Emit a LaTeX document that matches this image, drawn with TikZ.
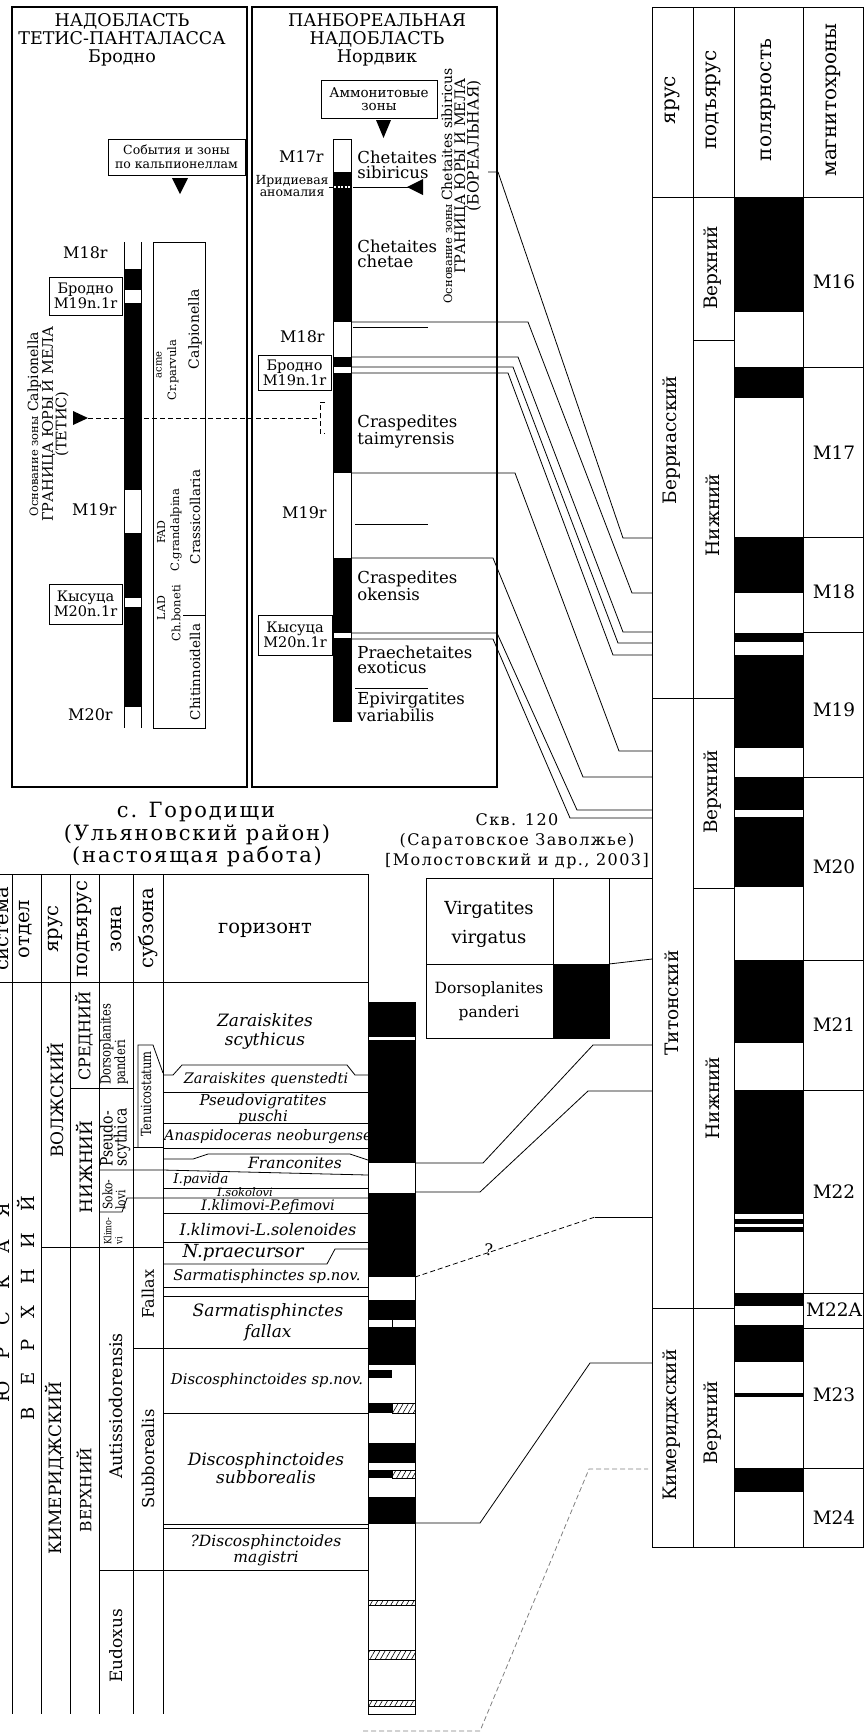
\documentclass[tikz,border=0pt]{standalone}
\usepackage{fontspec}
\setmainfont{DejaVu Serif}
\newfontfamily\spcfont[LetterSpace=9]{DejaVu Serif}
\newfontfamily\cndfont[FakeStretch=0.82]{DejaVu Serif}
\usetikzlibrary{patterns.meta}
\newcommand\fsz[2]{\fontsize{#1pt}{#2pt}\selectfont}
\newcommand\spread[1]{\def\sep{\hskip22pt}#1}

\begin{document}
\begin{tikzpicture}[x=1pt,y=-1pt,line width=0.8pt,
  lbl/.style={inner sep=0pt,align=center},
  rot/.style={inner sep=0pt,align=center,rotate=90},
  bx/.style={draw,line width=0.9pt,fill=white,inner sep=0pt,align=center},
  pan/.style={draw,line width=1.6pt},
  sp/.style={inner sep=0pt,align=left,anchor=north west,font=\fsz{16.5}{15}},
  hz/.style={inner sep=0pt,align=center,font=\itshape\fsz{#1}{#1}},
  hatch/.style={draw,line width=0.6pt,pattern={Lines[angle=60,distance=4.5pt,line width=0.6pt]}},
  dsh/.style={line width=0.8pt,dash pattern=on 5pt off 3pt}
]
\useasboundingbox (0,0) rectangle (864,1733);

\draw[pan] (12,7) rectangle (247,787);
\draw[pan] (252,7) rectangle (497,787);
\node[lbl,anchor=north,font=\fsz{17.5}{18}] (ttlT) at (122,13) {НАДОБЛАСТЬ\\ТЕТИС-ПАНТАЛАССА\\Бродно};
\node[lbl,anchor=north,font=\fsz{17.5}{18}] (ttlN) at (377,13) {ПАНБОРЕАЛЬНАЯ\\НАДОБЛАСТЬ\\Нордвик};

\node[bx,minimum width=116pt,minimum height=38pt,font=\fsz{13.5}{13}] (amm) at (379,99) {Аммонитовые\\зоны};
\node[bx,minimum width=137pt,minimum height=36pt,font=\fsz{12.5}{14}] (calp) at (176.5,157) {События и зоны\\по кальпионеллам};
\fill (376,120)--(391,120)--(383.5,138)--cycle;
\fill (172,178)--(188,178)--(180,194)--cycle;

\draw (124,242)--(124,728) (141,242)--(141,728);
\foreach \a/\b in {269/290,303/490,533/598,607/707} \fill (124,\a) rectangle (141,\b);
\node[lbl,anchor=east,font=\fsz{16}{16}] (m18T) at (108,253) {M18r};
\node[lbl,anchor=east,font=\fsz{16}{16}] (m19T) at (117,510) {M19r};
\node[lbl,anchor=east,font=\fsz{16}{16}] (m20T) at (113,715) {M20r};
\node[bx,minimum width=73pt,minimum height=38pt,font=\fsz{14.5}{15}] (brT) at (85.5,296) {Бродно\\M19n.1r};
\node[bx,minimum width=73pt,minimum height=40pt,font=\fsz{14.5}{15}] (kyT) at (85.5,604) {Кысуца\\M20n.1r};

\draw (153,242) rectangle (205,728);
\draw (183,615)--(205,615);
\node[rot,font=\fsz{14}{14}] (cpA) at (195,329) {Calpionella};
\node[rot,font=\fsz{10}{10}] (cpB) at (159,365) {acme};
\node[rot,font=\fsz{11.5}{12}] (cpC) at (173,370) {Cr.parvula};
\node[rot,font=\fsz{11}{11}] (cpD) at (161,532) {FAD};
\node[rot,font=\fsz{11.5}{12}] (cpE) at (176,530) {C.grandalpina};
\node[rot,font=\fsz{13.5}{14}] (cpF) at (195,517) {Crassicollaria};
\node[rot,font=\fsz{11}{11}] (cpG) at (161,608) {LAD};
\node[rot,font=\fsz{11.5}{12}] (cpH) at (176,613) {Ch.boneti};
\node[rot,font=\fsz{13.5}{14}] (cpI) at (195,672) {Chitinnoidella};

\node[rot,font=\fsz{14.5}{13.5}] (bndT) at (48,424) {{\fsz{11.5}{13.5}Основание зоны} {\fsz{14}{13.5}Calpionella}\\ГРАНИЦА ЮРЫ И МЕЛА\\(ТЕТИС)};
\fill (73,411)--(88,418)--(73,425)--cycle;
\draw[dsh] (88,418)--(320,418);
\draw[dsh] (325,402)--(320,402)--(320,433)--(325,433);

\foreach \a/\b in {172/322,357/367,373/473,558/633,638/722} \fill (333,\a) rectangle (351,\b);
\draw (333,722)--(333,139)--(351,139)--(351,722);
\draw[white,line width=1.2pt,dash pattern=on 2pt off 1.5pt] (334,187)--(350,187);
\draw (329,187)--(333,187);
\draw (353,187)--(423,187);
\fill (407,187)--(423,179)--(423,195)--cycle;
\node[lbl,anchor=east,font=\fsz{12.5}{12}] (irid) at (329,186) {Иридиевая\\аномалия};
\node[lbl,anchor=east,font=\fsz{16}{16}] (m17N) at (324,157) {M17r};
\node[lbl,anchor=east,font=\fsz{16}{16}] (m18N) at (325,337) {M18r};
\node[lbl,anchor=east,font=\fsz{16}{16}] (m19N) at (327,513) {M19r};
\node[bx,minimum width=73pt,minimum height=35pt,font=\fsz{14.5}{15}] (brN) at (294.5,372.5) {Бродно\\M19n.1r};
\node[bx,minimum width=74pt,minimum height=40pt,font=\fsz{14.5}{15}] (kyN) at (295,635) {Кысуца\\M20n.1r};
\node[sp] (zA) at (357,151) {Chetaites\\sibiricus};
\node[sp] (zB) at (357,240) {Chetaites\\chetae};
\node[sp] (zC) at (357,415) {Craspedites\\taimyrensis};
\node[sp] (zD) at (357,571) {Craspedites\\okensis};
\node[sp] (zE) at (357,646) {Praechetaites\\exoticus};
\node[sp] (zF) at (357,692) {Epivirgatites\\variabilis};
\draw (353,327)--(428,327) (355,524)--(428,524) (355,688)--(428,688);
\node[rot,anchor=east] (bndN1) at (447,68) {{\fsz{11.5}{12}Основание зоны} {\fsz{14}{14}Chetaites sibiricus}};
\node[rot,anchor=east,font=\fsz{14.5}{14}] (bndN2) at (461,78) {ГРАНИЦА ЮРЫ И МЕЛА};
\node[rot,anchor=east,font=\fsz{15.5}{14}] (bndN3) at (474,80) {(БОРЕАЛЬНАЯ)};

\draw (652,7) rectangle (863,1547);
\foreach \x in {693,734,803} \draw (\x,7)--(\x,1547);
\draw (652,197)--(863,197);
\foreach \y in {698,1308} \draw (652,\y)--(734,\y);
\foreach \y in {340,888} \draw (693,\y)--(734,\y);
\foreach \y in {367,537,632,777,960,1090,1293,1328,1468} \draw (803,\y)--(863,\y);
\foreach \a/\b in {197/312,367/398,537/593,633/642,655/748,777/810,817/887,960/1043,1090/1214,1219/1224,1227/1232,1293/1306,1325/1362,1393/1397,1468/1492}
  \fill (734,\a) rectangle (803,\b);
\node[rot,font=\fsz{20}{20}] (hY) at (672,100) {ярус};
\node[rot,font=\fsz{20}{20}] (hP) at (713,100) {подъярус};
\node[rot,font=\fsz{20}{20}] (hL) at (768,100) {полярность};
\node[rot,font=\fsz{20}{20}] (hM) at (833,100) {магнитохроны};
\node[rot,font=\fsz{18.5}{18}] (sBer) at (672,440) {Берриасский};
\node[rot,font=\fsz{18.5}{18}] (sTit) at (672,1003) {Титонский};
\node[rot,font=\fsz{18.5}{18}] (sKim) at (672,1425) {Кимериджский};
\node[rot,font=\fsz{18.5}{18}] (uBer) at (713,268) {Верхний};
\node[rot,font=\fsz{18.5}{18}] (lBer) at (713,515) {Нижний};
\node[rot,font=\fsz{18.5}{18}] (uTit) at (713,792) {Верхний};
\node[rot,font=\fsz{18.5}{18}] (lTit) at (713,1098) {Нижний};
\node[rot,font=\fsz{18.5}{18}] (uKim) at (713,1423) {Верхний};
\foreach \n/\y in {M16/282,M17/453,M18/592,M19/710,M20/867,M21/1025,M22/1192,M22A/1310,M23/1395,M24/1518}
  \node[lbl,font=\fsz{18.5}{18}] (c\n) at (834,\y) {\n};

\draw (498,172)--(623,538)--(652,538) (488,172)--(498,172);
\draw (351,322)--(528,322)--(632,593)--(652,593);
\draw (351,357)--(518,357)--(623,632)--(652,632);
\draw (351,367)--(513,367)--(618,643)--(652,643);
\draw (351,373)--(508,373)--(613,655)--(652,655);
\draw (351,473)--(515,473)--(619,751)--(652,751);
\draw (351,558)--(493,558)--(583,777)--(652,777);
\draw (351,633)--(497,633)--(577,810)--(652,810);
\draw (351,639)--(493,639)--(570,818)--(652,818);

\node[lbl,anchor=base,font=\spcfont\fsz{21}{21}] (gA) at (196,817) {с. Городищи};
\node[lbl,anchor=base,font=\spcfont\fsz{21}{21}] (gB) at (197,840) {(Ульяновский район)};
\node[lbl,anchor=base,font=\spcfont\fsz{21}{21}] (gC) at (197,862) {(настоящая работа)};
\node[lbl,anchor=base,font=\spcfont\fsz{16}{16}] (sA) at (517,825) {Скв. 120};
\node[lbl,anchor=base,font=\spcfont\fsz{16}{16}] (sB) at (517,845) {(Саратовское Заволжье)};
\node[lbl,anchor=base,font=\spcfont\fsz{16}{16}] (sC) at (517,865) {[Молостовский и др., 2003]};

\draw (426,878) rectangle (609,1038);
\fill (553,964) rectangle (609,1038);
\draw (553,878)--(553,1038) (426,964)--(609,964);
\node[lbl,font=\fsz{18}{29}] (vV) at (489,924) {Virgatites\\virgatus};
\node[lbl,font=\fsz{15.5}{24}] (vD) at (489,1001) {Dorsoplanites\\panderi};
\draw (609,878)--(652,878);
\draw (609,964)--(652,959);

\draw (0,874)--(368,874) (0,982)--(368,982);
\foreach \x in {12,41,70,99,133,163,368} \draw (\x,874)--(\x,1714);
\node[rot,font=\fsz{19.5}{20}] (hSys) at (3,929) {система};
\node[rot,font=\fsz{19.5}{20}] (hOtd) at (26,929) {отдел};
\node[rot,font=\fsz{19.5}{20}] (hYar) at (55,929) {ярус};
\node[rot,font=\fsz{19.5}{20}] (hPod) at (84,929) {подъярус};
\node[rot,font=\fsz{19.5}{20}] (hZon) at (116,929) {зона};
\node[rot,font=\fsz{19.5}{20}] (hSub) at (148,928) {субзона};
\node[lbl,font=\fsz{19.5}{20}] (hGor) at (265,930) {горизонт};

\node[rot,font=\fsz{18}{18}] (jur) at (3,1303) {Ю\hskip22pt Р\hskip22pt С\hskip22pt К\hskip22pt А\hskip22pt Я};
\node[rot,font=\fsz{18}{18}] (upp) at (26,1308) {В\hskip21pt Е\hskip21pt Р\hskip21pt Х\hskip21pt Н\hskip21pt И\hskip21pt Й};
\node[rot,font=\fsz{17}{17}] (vol) at (55,1100) {ВОЛЖСКИЙ};
\node[rot,font=\fsz{17}{17}] (kim) at (55,1468) {КИМЕРИДЖСКИЙ};
\node[rot,font=\fsz{16}{16}] (mid) at (84,1036) {СРЕДНИЙ};
\node[rot,font=\fsz{17}{17}] (low) at (84,1167) {НИЖНИЙ};
\node[rot,font=\fsz{15.5}{16}] (upk) at (84,1490) {ВЕРХНИЙ};
\node[rot,align=left,anchor=west,font=\cndfont\fsz{14}{13.5}] (zDor) at (114,1085) {Dorsoplanites\\panderi};
\node[rot,align=left,anchor=west,font=\cndfont\fsz{17}{14}] (zPse) at (115,1167) {Pseudo-\\scythica};
\node[rot,align=left,anchor=west,font=\cndfont\fsz{13}{13}] (zSok) at (114,1210) {Soko-\\lovi};
\node[rot,align=left,anchor=west,font=\cndfont\fsz{10}{11}] (zKli) at (113,1245) {Klimo-\\vi};
\node[rot,font=\fsz{17.5}{18}] (zAut) at (116,1406) {Autissiodorensis};
\node[rot,font=\fsz{17}{17}] (zEud) at (116,1646) {Eudoxus};
\node[rot,font=\cndfont\fsz{14}{14}] (szTen) at (146,1094) {Tenuicostatum};
\node[rot,font=\fsz{16}{16}] (szFal) at (148,1294) {Fallax};
\node[rot,font=\fsz{16.4}{16}] (szSub) at (148,1459) {Subborealis};

\draw (70,1088)--(133,1088);
\draw (138,1147)--(138,1045)--(153,1045)--(163,1073);
\draw (133,1147)--(163,1147);
\draw (99,1170)--(163,1170)--(368,1175);
\draw (99,1212)--(122,1212)--(127,1198)--(368,1198);
\draw (163,1188)--(368,1188);
\draw (41,1247)--(163,1247)--(163,1242)--(368,1242);
\draw (163,1075)--(173,1075)--(182,1065)--(347,1065)--(355,1075)--(368,1075);
\draw (163,1092)--(368,1092) (163,1123)--(368,1123) (163,1148)--(368,1148);
\draw (163,1159)--(193,1159)--(208,1154)--(350,1154)--(368,1160);
\draw (163,1213)--(368,1213);
\draw (163,1264)--(327,1264)--(335,1249)--(368,1249);
\draw (163,1287)--(368,1287) (163,1296)--(368,1296);
\draw (133,1348)--(368,1348);
\draw (163,1413)--(368,1413);
\draw (163,1524)--(368,1524) (163,1528)--(368,1528);
\draw (99,1570)--(368,1570);

\node[hz=17,font=\itshape\fsz{17}{19}] (hA) at (265,1031) {Zaraiskites\\scythicus};
\node[hz=14.5] (hB) at (266,1079) {Zaraiskites quenstedti};
\node[hz=15,font=\itshape\fsz{15}{12}] (hC) at (263,1109) {Pseudovigratites\\puschi};
\node[hz=14.5] (hD) at (268,1137) {Anaspidoceras neoburgense};
\node[hz=15.5] (hE) at (295,1163) {Franconites};
\node[hz=13.5,anchor=west] (hF) at (173,1180) {I.pavida};
\node[hz=11.5] (hG) at (245,1192) {I.sokolovi};
\node[hz=14.5] (hH) at (268,1206) {I.klimovi-P.efimovi};
\node[hz=16] (hI) at (268,1230) {I.klimovi-L.solenoides};
\node[hz=18] (hJ) at (243,1253) {N.praecursor};
\node[hz=14.8] (hK) at (267,1276) {Sarmatisphinctes sp.nov.};
\node[hz=17,font=\itshape\fsz{17}{21}] (hL) at (268,1322) {Sarmatisphinctes\\fallax};
\node[hz=14.8] (hM) at (267,1380) {Discosphinctoides sp.nov.};
\node[hz=17,font=\itshape\fsz{17}{18}] (hN) at (266,1468) {Discosphinctoides\\subborealis};
\node[hz=15.5,font=\itshape\fsz{15.5}{13}] (hO) at (266,1550) {?Discosphinctoides\\magistri};

\foreach \a/\b in {1002/1037,1040/1163,1193/1277,1300/1320,1327/1365,1443/1463,1497/1524}
  \fill (368,\a) rectangle (415,\b);
\foreach \a/\b in {1370/1378,1403/1413,1470/1478} \fill (368,\a) rectangle (392,\b);
\foreach \a/\b in {1403/1413,1470/1478} \draw[hatch] (392,\a) rectangle (415,\b);
\foreach \a/\b in {1600/1605,1650/1659,1700/1706} \draw[hatch] (368,\a) rectangle (415,\b);
\draw (392,1320)--(392,1327);
\draw (368,1002) rectangle (415,1714);

\draw (415,1163)--(483,1163)--(593,1045)--(652,1045);
\draw (415,1192)--(480,1192)--(588,1091)--(652,1091);
\draw[dsh] (415,1277)--(595,1217);
\draw (595,1217)--(652,1217);
\node[lbl,font=\fsz{16}{16}] (qm) at (489,1250) {?};
\draw (415,1523)--(480,1523)--(590,1363)--(652,1363);
\draw[dsh,gray] (363,1731)--(480,1731)--(589,1469)--(648,1469);
\end{tikzpicture}
\end{document}
